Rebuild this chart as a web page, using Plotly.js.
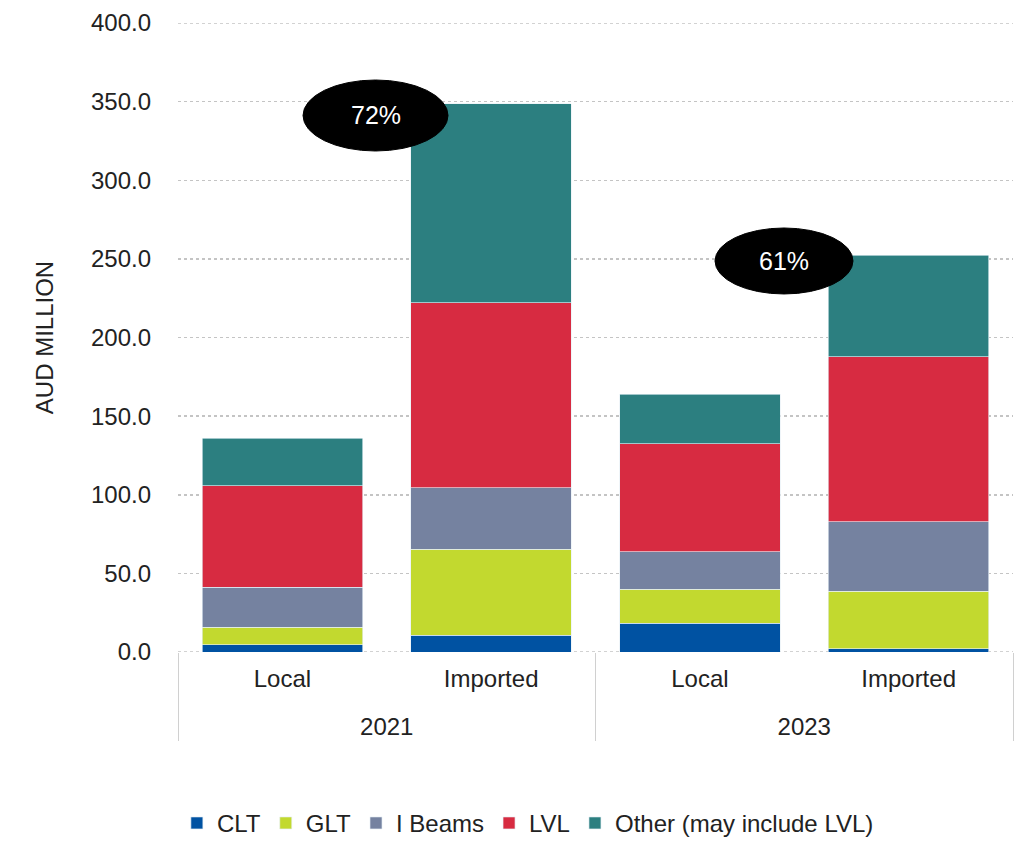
<!DOCTYPE html>
<html>
<head>
<meta charset="utf-8">
<script src="https://cdn.plot.ly/plotly-3.0.1.min.js"></script>
<style>html,body{margin:0;padding:0;background:#fff;}#chart{width:1025px;height:841px;}</style>
</head>
<body>
<div id="chart"></div>
<script>
const years = ["2021", "2021", "2023", "2023"];
const origins = ["Local", "Imported", "Local", "Imported"];
const seriesNames = ["CLT", "GLT", "I Beams", "LVL", "Other (may include LVL)"];
const clt = [4.5, 10.8, 18.2, 2.1];
const glt = [11.2, 54.5, 21.7, 36.5];
const iBeams = [25.4, 39.0, 23.9, 44.1];
const lvl = [64.5, 117.8, 68.5, 105.1];
const other = [30.3, 126.4, 31.6, 64.5];
const importShareLabels = ["72%", "61%"];
const edgeGridValues = [0, 400];

const colors = ["#0052A2", "#C2D92F", "#7582A0", "#D72B41", "#2C7F80"];
const allSeries = [clt, glt, iBeams, lvl, other];
const FONT = "Liberation Sans, Arial, sans-serif";
// inner-level labels padded below so the year row sits lower, as in the reference
const originLabels = origins.map(o => o + "<br><span style='font-size:14px'> </span>");

const traces = allSeries.map((vals, i) => ({
  type: "bar",
  name: seriesNames[i],
  x: [years, originLabels],
  y: vals,
  marker: {color: colors[i], line: {color: "rgba(230,240,245,0.8)", width: 0.8}},
  hoverinfo: "name+y"
}));

const ellipses = [
  {x0: 0.1497, x1: 0.3234, y0: 0.7965, y1: 0.9094},
  {x0: 0.6431, x1: 0.8084, y0: 0.5692, y1: 0.6741}
];

const shapes = edgeGridValues.map(v => ({
  type: "line", xref: "paper", yref: "y", x0: 0, x1: 1, y0: v, y1: v,
  line: {color: "#c4c4c4", width: 1.5, dash: "dot"}, layer: "below"
})).concat(ellipses.map(e => ({
  type: "circle", xref: "paper", yref: "paper",
  x0: e.x0, x1: e.x1, y0: e.y0, y1: e.y1,
  fillcolor: "#000", line: {color: "#000", width: 1}
})));

const layout = {
  width: 1025, height: 841,
  margin: {l: 178, r: 12, t: 23, b: 189},
  paper_bgcolor: "#fff", plot_bgcolor: "#fff",
  barmode: "stack",
  bargap: 0.23,
  font: {family: FONT, size: 24, color: "#222"},
  showlegend: true,
  legend: {
    orientation: "h", xref: "container", yref: "container",
    x: 0.515, xanchor: "center", y: 0.021, yanchor: "middle",
    font: {family: FONT, size: 24, color: "#222"},
    traceorder: "normal", itemwidth: 30
  },
  xaxis: {
    type: "multicategory",
    showgrid: false,
    showline: false,
    showdividers: true, dividercolor: "#d0d0d0", dividerwidth: 1,
    tickfont: {family: FONT, size: 24, color: "#222"},
    ticklabelstandoff: 10,
    ticks: "",
    automargin: false
  },
  yaxis: {
    range: [0, 400],
    tickvals: [0, 50, 100, 150, 200, 250, 300, 350, 400],
    tickformat: ".1f",
    showgrid: true, gridcolor: "#c4c4c4", griddash: "dot", gridwidth: 1.5,
    zeroline: false, showline: false,
    ticklabelstandoff: 26,
    automargin: false,
    tickfont: {family: FONT, size: 24, color: "#222"},
    title: {text: "AUD MILLION", standoff: 30, font: {family: FONT, size: 24, color: "#222"}}
  },
  shapes: shapes,
  annotations: ellipses.map((e, i) => ({
    xref: "paper", yref: "paper",
    x: (e.x0 + e.x1) / 2, y: (e.y0 + e.y1) / 2,
    text: importShareLabels[i], showarrow: false,
    font: {family: FONT, size: 25, color: "#fff"},
    xanchor: "center", yanchor: "middle"
  }))
};

Plotly.newPlot("chart", traces, layout, {displayModeBar: false, staticPlot: true});
</script>
</body>
</html>
